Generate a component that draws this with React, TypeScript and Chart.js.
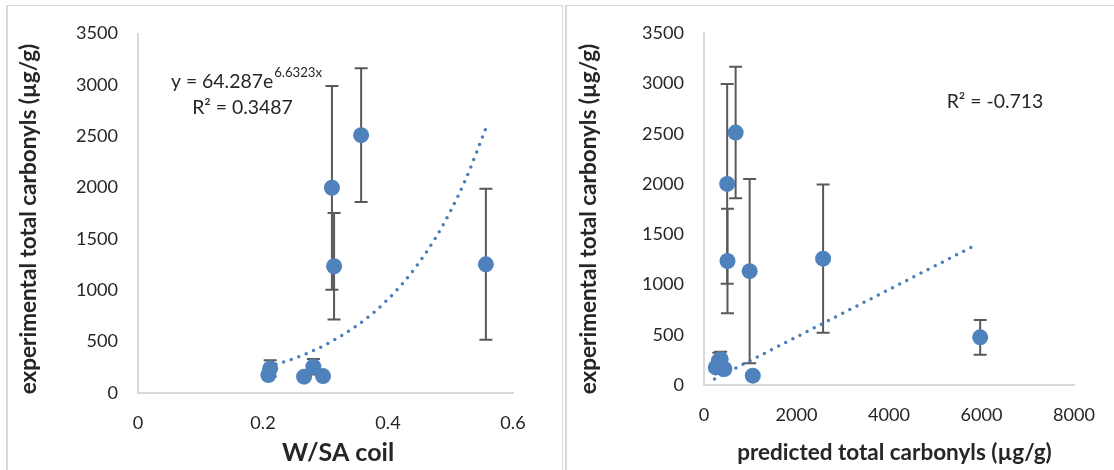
import React, { useEffect, useRef } from "react";
import { Chart, registerables } from "chart.js";

Chart.register(...registerables);

const FONT = "Lato, 'Open Sans', sans-serif";
const POINT_COLOR = "#4f81bd";
const TREND_COLOR = "#4a7ebb";
const ERR_COLOR = "#595959";
const TEXT_COLOR = "#262626";
const AXIS_COLOR = "#d9d9d9";

// ---------- Left panel: W/SA coil ----------
const wsaX = [0.2086, 0.2115, 0.2657, 0.2806, 0.296, 0.3103, 0.3137, 0.357, 0.5566];
const wsaY = [175, 240, 159, 256, 165, 1998, 1234, 2510, 1253];
const wsaErr = [0, 80, 0, 75, 0, 992, 518, 651, 735];
const wsaTrendX = [0.2086, 0.25, 0.3, 0.35, 0.375, 0.4, 0.425, 0.45, 0.475, 0.5, 0.525, 0.5566];
const wsaTrendY = [256, 337, 470, 655, 773, 913, 1077, 1272, 1500, 1771, 2091, 2578];
const wsaXTicks = [0, 0.2, 0.4, 0.6];

// ---------- Right panel: predicted total carbonyls ----------
const predX = [255, 320, 440, 360, 400, 501, 684, 508, 987, 2575, 5971, 1055];
const predY = [175, 240, 159, 256, 165, 2001, 2512, 1234, 1133, 1257, 474, 93];
const predErr = [0, 80, 0, 75, 0, 994, 654, 520, 917, 738, 174, 0];
const predTrendX = [228, 5875];
const predTrendY = [60, 1393];
const predXTicks = [0, 2000, 4000, 6000, 8000];

const yTicks = [0, 500, 1000, 1500, 2000, 2500, 3000, 3500];

// size a font so that a sample text has a given width
let measureCtx: CanvasRenderingContext2D | null = null;
function fitSize(text: string, weight: string, width: number): number {
  if (!measureCtx) measureCtx = document.createElement("canvas").getContext("2d");
  const ctx = measureCtx as CanvasRenderingContext2D;
  ctx.font = `${weight} 100px ${FONT}`;
  const w = ctx.measureText(text).width;
  return Math.round(((100 * width) / w) * 10) / 10;
}

function annotationSize(): number {
  return (fitSize("y = 64.287e", "normal", 107) + fitSize("R² = 0.3487", "normal", 96)) / 2;
}

type Ann = { x: number; y: number; main: string; sup?: string; supDy?: number };

type PanelCfg = {
  xs: number[];
  ys: number[];
  errs: number[];
  tx: number[];
  ty: number[];
  curved: boolean;
  xTicks: number[];
  width: number;
  height: number;
  padTop: number;
  padRight: number;
  yWidth: number;
  xHeight: number;
  xTitle: string;
  xTitleWidth: number;
  xTitlePos: [number, number];
  yTitle: string;
  yTitleWidth: number;
  yTitlePos: [number, number];
  anns: Ann[];
};

function makePlugin(cfg: PanelCfg) {
  return {
    id: "panelExtras",
    beforeDatasetsDraw(chart: any) {
      const ctx = chart.ctx;
      const ys = chart.scales.y;
      const meta = chart.getDatasetMeta(0);
      ctx.save();
      ctx.strokeStyle = ERR_COLOR;
      ctx.lineWidth = 2;
      cfg.errs.forEach((e, i) => {
        if (!e) return;
        const px = meta.data[i].x;
        const top = ys.getPixelForValue(cfg.ys[i] + e);
        const bot = ys.getPixelForValue(cfg.ys[i] - e);
        ctx.beginPath();
        ctx.moveTo(px, top);
        ctx.lineTo(px, bot);
        ctx.moveTo(px - 6.5, top);
        ctx.lineTo(px + 6.5, top);
        ctx.moveTo(px - 6.5, bot);
        ctx.lineTo(px + 6.5, bot);
        ctx.stroke();
      });
      ctx.restore();
    },
    afterDraw(chart: any) {
      const ctx = chart.ctx;
      ctx.save();
      ctx.fillStyle = TEXT_COLOR;
      ctx.textBaseline = "middle";
      // x title
      const xs = fitSize(cfg.xTitle, "bold", cfg.xTitleWidth);
      ctx.font = `bold ${xs}px ${FONT}`;
      ctx.textAlign = "center";
      ctx.fillText(cfg.xTitle, cfg.xTitlePos[0], cfg.xTitlePos[1]);
      // y title
      const ysz = fitSize(cfg.yTitle, "bold", cfg.yTitleWidth);
      ctx.save();
      ctx.translate(cfg.yTitlePos[0], cfg.yTitlePos[1]);
      ctx.rotate(-Math.PI / 2);
      ctx.font = `bold ${ysz}px ${FONT}`;
      ctx.fillText(cfg.yTitle, 0, 0);
      ctx.restore();
      // annotations (trendline equation / R²)
      const size = annotationSize();
      const supSize = Math.round(size * 0.68 * 10) / 10;
      cfg.anns.forEach((a) => {
        ctx.font = `${size}px ${FONT}`;
        const wMain = ctx.measureText(a.main).width;
        let wSup = 0;
        if (a.sup) {
          ctx.font = `${supSize}px ${FONT}`;
          wSup = ctx.measureText(a.sup).width + 1;
        }
        const start = a.x - (wMain + wSup) / 2;
        ctx.textAlign = "left";
        ctx.font = `${size}px ${FONT}`;
        ctx.fillText(a.main, start, a.y);
        if (a.sup) {
          ctx.font = `${supSize}px ${FONT}`;
          ctx.fillText(a.sup, start + wMain + 1, a.y + (a.supDy || 0));
        }
      });
      ctx.restore();
    },
  };
}

function Panel({ cfg, left }: { cfg: PanelCfg; left: number }) {
  const ref = useRef<HTMLCanvasElement | null>(null);
  useEffect(() => {
    if (!ref.current) return;
    const tickSize = fitSize("3500", "normal", 42);
    const pts = cfg.xs.map((x, i) => ({ x, y: cfg.ys[i] }));
    const trend = cfg.tx.map((x, i) => ({ x, y: cfg.ty[i] }));
    const xMin = cfg.xTicks[0];
    const xMax = cfg.xTicks[cfg.xTicks.length - 1];
    const xStep = cfg.xTicks[1] - cfg.xTicks[0];
    const chart = new Chart(ref.current, {
      type: "scatter",
      data: {
        datasets: [
          {
            data: pts,
            backgroundColor: POINT_COLOR,
            borderColor: POINT_COLOR,
            pointRadius: 8,
            pointBorderWidth: 0,
            showLine: false,
          },
          {
            data: trend,
            showLine: true,
            borderColor: TREND_COLOR,
            borderWidth: 3.5,
            borderDash: [0, 8],
            borderCapStyle: "round",
            pointRadius: 0,
            fill: false,
            cubicInterpolationMode: cfg.curved ? "monotone" : "default",
          } as any,
        ],
      },
      options: {
        responsive: false,
        animation: false,
        events: [],
        layout: { padding: { left: 0, top: cfg.padTop, right: cfg.padRight, bottom: 0 } },
        plugins: { legend: { display: false }, tooltip: { enabled: false } },
        scales: {
          x: {
            type: "linear",
            min: xMin,
            max: xMax,
            afterFit: (s: any) => {
              s.height = cfg.xHeight;
            },
            afterBuildTicks: (s: any) => {
              s.ticks = cfg.xTicks.map((v) => ({ value: v }));
            },
            grid: { display: false, drawTicks: false },
            border: { display: true, color: AXIS_COLOR, width: 2 },
            ticks: {
              stepSize: xStep,
              padding: 19,
              color: TEXT_COLOR,
              font: { family: FONT, size: tickSize },
              maxRotation: 0,
              callback: (v: any) => String(Number(Number(v).toFixed(4))),
            },
          },
          y: {
            type: "linear",
            min: 0,
            max: 3500,
            afterFit: (s: any) => {
              s.width = cfg.yWidth;
            },
            afterBuildTicks: (s: any) => {
              s.ticks = yTicks.map((v) => ({ value: v }));
            },
            grid: { display: false, drawTicks: false },
            border: { display: true, color: AXIS_COLOR, width: 2 },
            ticks: {
              stepSize: 500,
              padding: 20,
              color: TEXT_COLOR,
              font: { family: FONT, size: tickSize },
              callback: (v: any) => String(v),
            },
          },
        },
      },
      plugins: [makePlugin(cfg)],
    } as any);
    return () => chart.destroy();
  }, [cfg]);
  return (
    <canvas
      ref={ref}
      width={cfg.width}
      height={cfg.height}
      style={{ position: "absolute", left, top: 0, width: cfg.width, height: cfg.height }}
    />
  );
}

const leftCfg: PanelCfg = {
  xs: wsaX,
  ys: wsaY,
  errs: wsaErr,
  tx: wsaTrendX,
  ty: wsaTrendY,
  curved: true,
  xTicks: wsaXTicks,
  width: 563,
  height: 470,
  padTop: 33.5,
  padRight: 50,
  yWidth: 138,
  xHeight: 77,
  xTitle: "W/SA coil",
  xTitleWidth: 112,
  xTitlePos: [338, 453],
  yTitle: "experimental total carbonyls (µg/g)",
  yTitleWidth: 350,
  yTitlePos: [28.5, 219],
  anns: [
    { x: 246.5, y: 81.5, main: "y = 64.287e", sup: "6.6323x", supDy: -8.5 },
    { x: 242.5, y: 107.5, main: "R² = 0.3487" },
  ],
};

const rightCfg: PanelCfg = {
  xs: predX,
  ys: predY,
  errs: predErr,
  tx: predTrendX,
  ty: predTrendY,
  curved: false,
  xTicks: predXTicks,
  width: 547,
  height: 470,
  padTop: 33.3,
  padRight: 38,
  yWidth: 137,
  xHeight: 85,
  xTitle: "predicted total carbonyls (µg/g)",
  xTitleWidth: 315,
  xTitlePos: [327.5, 453],
  yTitle: "experimental total carbonyls (µg/g)",
  yTitleWidth: 350,
  yTitlePos: [21.5, 219],
  anns: [{ x: 428, y: 101.7, main: "R² = -0.713" }],
};

export default function App() {
  return (
    <div
      style={{
        position: "absolute",
        left: 0,
        top: 0,
        width: 1114,
        height: 470,
        overflow: "hidden",
        background: "#ffffff",
      }}
    >
      <div
        style={{
          position: "absolute",
          left: 6,
          top: 5,
          width: 557,
          height: 480,
          boxSizing: "border-box",
          borderLeft: `2px solid ${AXIS_COLOR}`,
          borderTop: `1px solid ${AXIS_COLOR}`,
          borderRight: `1px solid ${AXIS_COLOR}`,
        }}
      />
      <div
        style={{
          position: "absolute",
          left: 565,
          top: 5,
          width: 560,
          height: 480,
          boxSizing: "border-box",
          borderLeft: `2px solid ${AXIS_COLOR}`,
          borderTop: `1px solid ${AXIS_COLOR}`,
        }}
      />
      <Panel cfg={leftCfg} left={0} />
      <Panel cfg={rightCfg} left={567} />
    </div>
  );
}
